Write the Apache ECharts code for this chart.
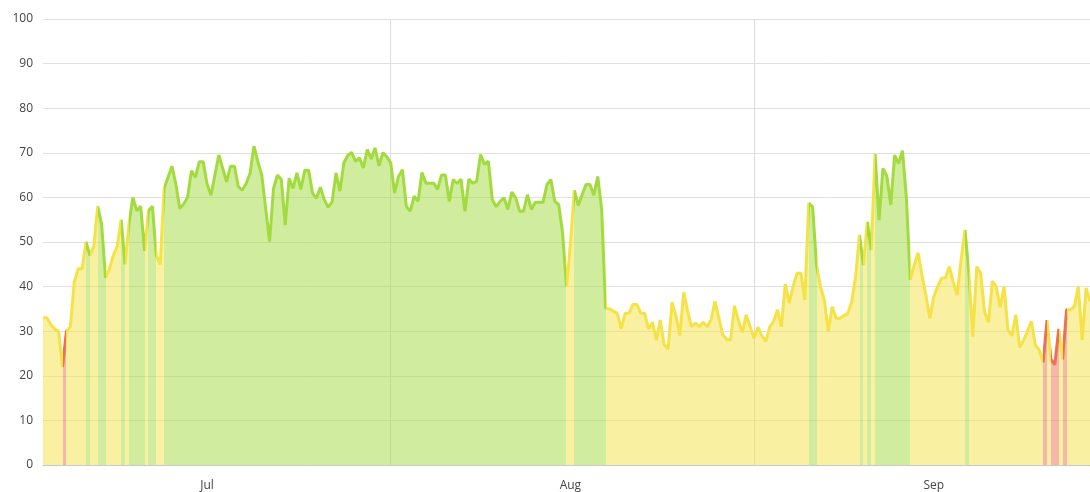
<!DOCTYPE html>
<html><head><meta charset="utf-8">
<script src="https://cdn.jsdelivr.net/npm/echarts@6/dist/echarts.min.js"></script>
<style>html,body{margin:0;padding:0;background:#fff}#c{width:1090px;height:492px}</style>
</head><body><div id="c"></div>
<script>
// values sampled every 8 hours starting 2023-06-17 00:00
const values = [
33,33,31.5,30.5,30,22,30,31,41,44,
44,50,47,49,58,54,42,44,47,49,
55,45,54,60,57,58,48,57,58,47,
45,62,64.5,67,63,57.5,58.5,60,66,64.5,
68,68,63,60.5,65,69.5,66.5,63.5,67,67,
62.4,61.6,63.1,65.4,71.5,68,65,57.5,50.1,62,
65,64,53.8,64.3,62,65.5,61.8,66.1,66.1,60.9,
59.8,62.3,59.5,57.8,59,65.5,61.4,67.7,69.4,70.1,
68.1,68.9,66.6,70.7,68.6,71.1,67.1,70,69.1,67.7,
61,64.7,66.2,58,56.9,60.3,59.1,65.6,63.2,63.2,
63.2,61.8,65,65,59.1,64,63.1,64.1,56.9,64.1,
63.2,63.6,69.6,67.4,68.1,59.5,57.9,59.1,59.9,57.3,
61.2,59.9,56.9,56.9,60.6,57.3,58.9,58.9,58.9,62.9,
64,59.1,58.4,52,40,49.5,61.6,58.2,60.6,62.9,
62.9,60.5,64.7,57.3,35.2,35,34.5,34,30.5,34,
34,36,36,34,34,30.5,32,28,32.5,27,
26,36.5,33.5,29,38.7,34.5,31,31.8,31,32,
31,32.6,36.7,33,29.2,28.2,28,35.7,32.5,29.7,
33.7,31,28.4,30.9,29,27.7,30.9,32.2,34.8,31,
40.6,36.3,40,43,43,37,58.7,57.9,44.8,40,
37,29.9,35.5,32.9,32.9,33.5,34,36.6,42.2,51.6,
44.8,54.5,48.2,69.7,54.9,66.5,64.8,58.3,69.5,67.6,
70.5,59.8,41.5,44.8,47.6,42.6,38,32.9,37.7,40,
41.9,42,44.5,41,38.1,46,52.7,43,28.8,44.5,
43,34.4,32,41.2,40,35.4,40,30.3,29,33.7,
26.4,28,30,32.2,26.9,25.8,23,32.5,23.7,22.5,
30.5,23.7,34.8,34.8,35.6,40,28,39.7,36.7
];
const startTime = Date.UTC(2023, 5, 17, 0, 0);
const stepHours = 8;
const monthNames = ['Jan','Feb','Mar','Apr','May','Jun','Jul','Aug','Sep','Oct','Nov','Dec'];
const gridLineStamps = ['07-16 16:00', '08-16 16:00'];
const yTicks = {min: 0, max: 100, interval: 10};
const bands = [
  {name: 'low', below: 25, color: '#f26d58'},
  {name: 'mid', below: 50, color: '#f5e246'},
  {name: 'high', below: Infinity, color: '#a2db3e'}
];

function pad(n){return (n < 10 ? '0' : '') + n;}
const categories = values.map(function (v, i) {
  const d = new Date(startTime + i * stepHours * 3600 * 1000);
  return pad(d.getUTCMonth() + 1) + '-' + pad(d.getUTCDate()) + ' ' + pad(d.getUTCHours()) + ':00';
});

function bandOf(v){ for (const b of bands) { if (v < b.below) return b; } return bands[bands.length-1]; }
// each segment takes the colour of its starting point
const pieces = [];
let runStart = 0, runBand = bandOf(values[0]);
for (let i = 1; i <= values.length; i++) {
  const b = i < values.length ? bandOf(values[i]) : null;
  if (b !== runBand) {
    pieces.push({gte: runStart === 0 ? -1 : runStart, lt: i === values.length ? values.length + 1 : i, color: runBand.color});
    runStart = i; runBand = b;
  }
}

const chart = echarts.init(document.getElementById('c'), null, {renderer: 'canvas'});
chart.setOption({
  animation: false,
  grid: {left: 43, right: 0, top: 19, bottom: 27},
  visualMap: {type: 'piecewise', show: false, dimension: 0, seriesIndex: 0, pieces: pieces},
  xAxis: {
    type: 'category',
    boundaryGap: false,
    data: categories,
    axisLine: {lineStyle: {color: '#c8c8c8'}},
    axisTick: {show: false},
    axisLabel: {
      interval: function (i, v) { return /-01 00:00$/.test(v); },
      formatter: function (v) { return monthNames[parseInt(v.slice(0, 2), 10) - 1]; },
      color: '#444', fontSize: 12, fontFamily: 'Open Sans', margin: 15
    },
    splitLine: {
      show: true,
      interval: function (i, v) { return gridLineStamps.indexOf(v) >= 0; },
      lineStyle: {color: '#dcdcdc'}
    }
  },
  yAxis: {
    type: 'value',
    min: yTicks.min, max: yTicks.max, interval: yTicks.interval,
    axisLine: {show: false}, axisTick: {show: false},
    axisLabel: {color: '#444', fontSize: 12, fontFamily: 'Open Sans', margin: 10},
    splitLine: {lineStyle: {color: '#e0e0e0'}}
  },
  series: [{
    type: 'line',
    data: values,
    showSymbol: false,
    smooth: false,
    lineStyle: {width: 3},
    areaStyle: {opacity: 0.5}
  }]
});
</script></body></html>
